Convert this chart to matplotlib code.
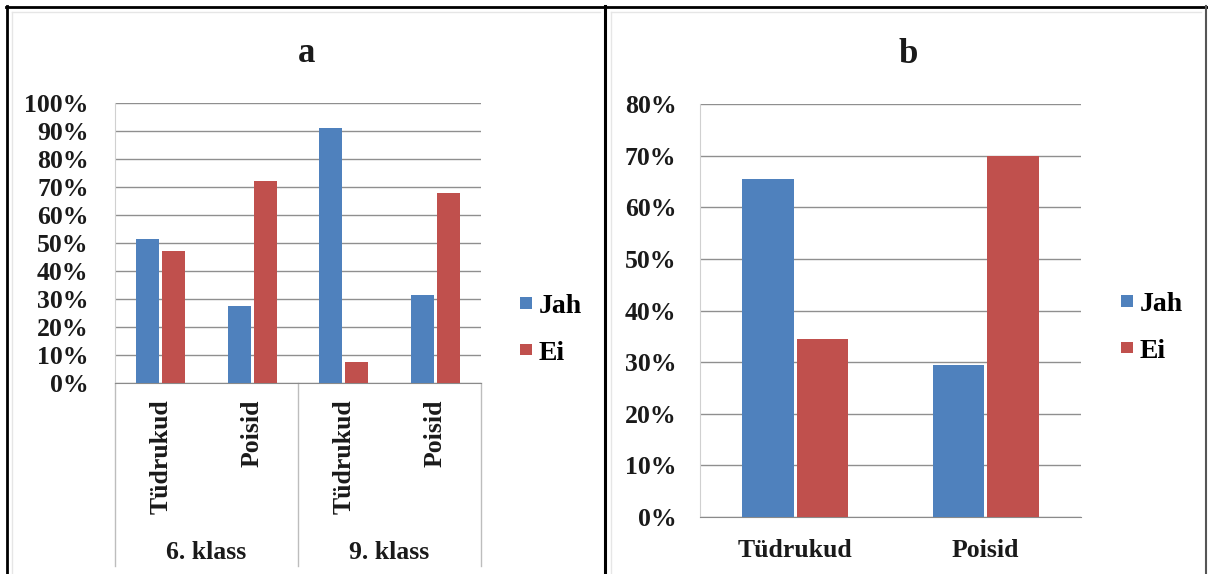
import matplotlib
matplotlib.use("Agg")
import matplotlib.pyplot as plt
import matplotlib.transforms as mtransforms
from matplotlib.lines import Line2D
import numpy as np

# ---------------- data ----------------
series_names = ["Jah", "Ei"]
a_categories = ["Tüdrukud", "Poisid", "Tüdrukud", "Poisid"]
a_groups = ["6. klass", "9. klass"]
a_jah = [51.5, 27.5, 91, 31.5]
a_ei = [47, 72, 7.5, 68]
a_yticks = [0, 10, 20, 30, 40, 50, 60, 70, 80, 90, 100]

b_categories = ["Tüdrukud", "Poisid"]
b_jah = [65.5, 29.5]
b_ei = [34.5, 70]
b_yticks = [0, 10, 20, 30, 40, 50, 60, 70, 80]

# ---------------- style ----------------
W, H = 1208, 574
DPI = 100
BLUE = "#4F81BD"
RED = "#C0504D"
GRID = "#8f8f8f"
TXT = "#1a1a1a"
plt.rcParams["font.family"] = ["Liberation Serif", "DejaVu Serif"]
plt.rcParams["font.weight"] = "bold"
FS = 18.5

fig = plt.figure(figsize=(W / DPI, H / DPI), dpi=DPI)
fig.patch.set_facecolor("white")


def rect(l, t, r, b):
    return [l / W, (H - b) / H, (r - l) / W, (b - t) / H]


def style_axes(ax, yticks, ymax):
    ax.set_ylim(0, ymax)
    ax.set_yticks(yticks)
    ax.set_yticklabels([f"{v}%" for v in yticks], fontsize=FS, fontweight="bold", color=TXT)
    ax.yaxis.grid(True, color=GRID, lw=1.0)
    ax.set_axisbelow(True)
    for s in ["top", "right"]:
        ax.spines[s].set_visible(False)
    ax.spines["left"].set_color("#d0d0d0")
    ax.spines["bottom"].set_color("#8a8a8a")
    ax.tick_params(axis="both", length=0)


LEG = dict(loc="center left", bbox_transform=fig.transFigure, frameon=False,
           borderaxespad=0, borderpad=0, handlelength=0.42, handleheight=0.25,
           handletextpad=0.25, labelspacing=0.78,
           prop={"family": "Liberation Serif", "weight": "bold", "size": 20})

# ---------------- panel a ----------------
axa = fig.add_axes(rect(115, 103, 481, 383))
xa = np.arange(len(a_categories))
wa = 0.25
off_a = 0.142
ba1 = axa.bar(xa - off_a, a_jah, wa, color=BLUE, label=series_names[0], zorder=3)
ba2 = axa.bar(xa + off_a, a_ei, wa, color=RED, label=series_names[1], zorder=3)
axa.set_xlim(-0.5, len(a_categories) - 0.5)
style_axes(axa, a_yticks, 100)
axa.tick_params(axis="y", pad=19)
axa.set_xticks(xa)
axa.set_xticklabels(a_categories, rotation=90, fontsize=FS, fontweight="bold", color=TXT)
axa.tick_params(axis="x", pad=12)

trans_a = mtransforms.blended_transform_factory(axa.transData, axa.transAxes)
for xs in [-0.5, 1.5, 3.5]:
    axa.plot([xs, xs], [0, -0.655], transform=trans_a, color="#bdbdbd", lw=1.0, clip_on=False)
for gi, g in enumerate(a_groups):
    axa.text(gi * 2 + 0.5, -0.606, g, transform=trans_a, ha="center", va="center",
             fontsize=FS, fontweight="bold", color=TXT)

fig.text(307 / W, (H - 62) / H, "a", ha="center", va="baseline", fontsize=25, fontweight="bold", color=TXT)
axa.legend(handles=[ba1, ba2], bbox_to_anchor=(520 / W, (H - 330) / H), **LEG)

# ---------------- panel b ----------------
axb = fig.add_axes(rect(700, 104, 1081, 517))
xb = np.arange(len(b_categories))
wb = 0.27
off_b = 0.142
bb1 = axb.bar(xb - off_b, b_jah, wb, color=BLUE, label=series_names[0], zorder=3)
bb2 = axb.bar(xb + off_b, b_ei, wb, color=RED, label=series_names[1], zorder=3)
axb.set_xlim(-0.5, len(b_categories) - 0.5)
style_axes(axb, b_yticks, 80)
axb.tick_params(axis="y", pad=17)
axb.set_xticks(xb)
axb.set_xticklabels(b_categories, fontsize=FS, fontweight="bold", color=TXT)
axb.tick_params(axis="x", pad=16)

fig.text(908 / W, (H - 63) / H, "b", ha="center", va="baseline", fontsize=25, fontweight="bold", color=TXT)
axb.legend(handles=[bb1, bb2], bbox_to_anchor=(1121 / W, (H - 328) / H), **LEG)

# ---------------- panel borders ----------------
def fline(x0, y0, x1, y1, color="black", lw=2.0):
    fig.add_artist(Line2D([x0 / W, x1 / W], [(H - y0) / H, (H - y1) / H],
                          color=color, lw=lw, transform=fig.transFigure))

fline(6, 7, 1208, 7, lw=2.0)
fline(7, 6, 7, 574, lw=2.0)
fline(605, 6, 605, 574, lw=2.2)
fline(1206, 6, 1206, 574, color="#555555", lw=1.5)
# faint inner chart-area frames
fline(12, 12, 600, 12, color="#e6e6e6", lw=1.0)
fline(12, 12, 12, 574, color="#e6e6e6", lw=1.0)
fline(611, 12, 1201, 12, color="#e6e6e6", lw=1.0)
fline(611, 12, 611, 574, color="#e6e6e6", lw=1.0)

fig.savefig("out.png", dpi=DPI)
